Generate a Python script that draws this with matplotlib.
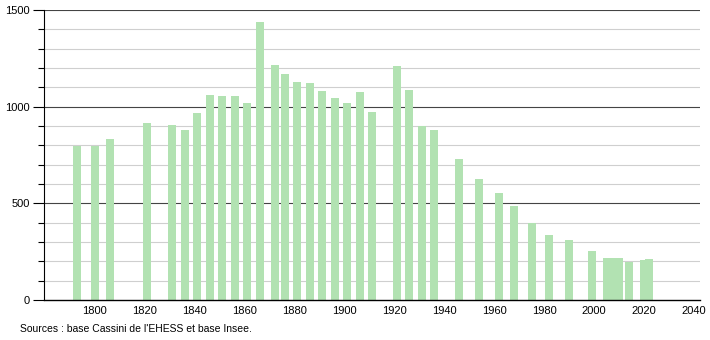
import matplotlib.pyplot as plt
from matplotlib.ticker import MultipleLocator

plt.rcParams['font.family'] = ['Liberation Sans', 'DejaVu Sans']

# années de recensement et population
annees = [1793, 1800, 1806, 1821, 1831, 1836, 1841, 1846, 1851, 1856,
          1861, 1866, 1872, 1876, 1881, 1886, 1891, 1896, 1901, 1906,
          1911, 1921, 1926, 1931, 1936, 1946, 1954, 1962, 1968, 1975,
          1982, 1990, 1999, 2005, 2006, 2007, 2008, 2009, 2010, 2014,
          2020, 2022]
population = [797, 797, 833, 914, 905, 879, 966, 1060, 1055, 1055,
              1019, 1438, 1216, 1169, 1128, 1122, 1081, 1045, 1017, 1078,
              972, 1212, 1086, 898, 879, 728, 626, 555, 486, 397,
              336, 310, 253, 216, 216, 216, 216, 216, 216, 195,
              205, 211]

graduations = list(range(1800, 2041, 20))
source = "Sources : base Cassini de l'EHESS et base Insee."

fig = plt.figure(figsize=(7.1, 3.4), dpi=100)
ax = fig.add_axes([44 / 710, 40 / 340, 656 / 710, 290 / 340])

# grille : fine tous les 100, foncée tous les 500
for y in range(100, 1501, 100):
    if y % 500 == 0:
        ax.axhline(y, color='#444444', lw=0.8, zorder=1)
    else:
        ax.axhline(y, color='#cfcfcf', lw=0.8, zorder=1)

ax.bar(annees, population, width=3.2, color='#b2e2b2', edgecolor='none', zorder=2)

ax.set_xlim(1779.6, 2042.4)
ax.set_ylim(0, 1500)
ax.set_xticks(graduations)
ax.set_xticklabels([str(a) for a in graduations])
ax.yaxis.set_major_locator(MultipleLocator(500))
ax.yaxis.set_minor_locator(MultipleLocator(100))
ax.tick_params(axis='x', length=0, labelsize=8, pad=4)
ax.tick_params(axis='y', which='major', length=8, width=0.8, labelsize=8, pad=2)
ax.tick_params(axis='y', which='minor', length=4, width=0.8)

for s in ['top', 'right']:
    ax.spines[s].set_visible(False)
ax.spines['left'].set_color('black')
ax.spines['bottom'].set_color('black')
ax.spines['left'].set_linewidth(0.8)
ax.spines['bottom'].set_linewidth(1.0)
ax.spines['bottom'].set_zorder(3)

fig.text(20 / 710, 1 - 329 / 340, source, fontsize=7.5, va='center', ha='left')

fig.savefig('out.png', dpi=100)
